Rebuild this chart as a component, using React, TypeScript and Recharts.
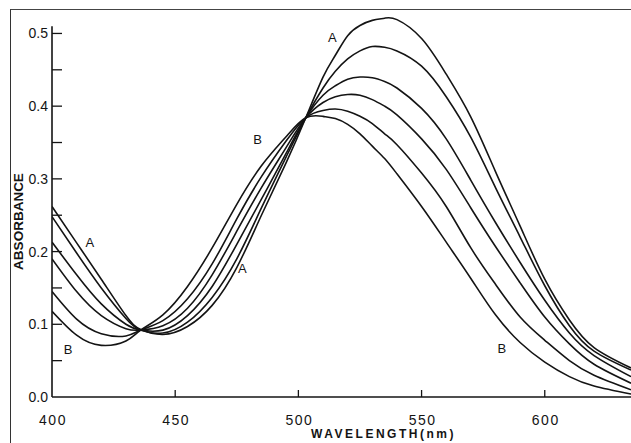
import React from 'react';
import { LineChart, Line, XAxis, YAxis, ReferenceLine, ReferenceDot } from 'recharts';

// absorbance spectra, wavelength in nm; curve A (first) to curve B (last)
const wavelengths = [400, 410, 420, 430, 436, 445, 455, 465, 475, 485, 495, 503, 510, 515, 520, 525, 530, 535, 540, 550, 560, 570, 580, 590, 600, 610, 620, 635];

const curveA = [0.262, 0.212, 0.162, 0.112, 0.093, 0.086, 0.097, 0.126, 0.178, 0.25, 0.322, 0.384, 0.44, 0.47, 0.497, 0.511, 0.518, 0.521, 0.519, 0.493, 0.444, 0.385, 0.31, 0.235, 0.162, 0.106, 0.068, 0.04];
const curve2 = [0.248, 0.198, 0.15, 0.108, 0.092, 0.088, 0.103, 0.137, 0.19, 0.26, 0.33, 0.384, 0.425, 0.448, 0.465, 0.476, 0.482, 0.481, 0.476, 0.455, 0.413, 0.357, 0.288, 0.22, 0.153, 0.098, 0.063, 0.037];
const curve3 = [0.213, 0.168, 0.128, 0.1, 0.092, 0.092, 0.112, 0.152, 0.21, 0.272, 0.335, 0.384, 0.415, 0.428, 0.437, 0.44, 0.439, 0.434, 0.425, 0.397, 0.355, 0.298, 0.24, 0.185, 0.133, 0.088, 0.057, 0.028];
const curve4 = [0.19, 0.145, 0.112, 0.094, 0.092, 0.098, 0.122, 0.168, 0.228, 0.288, 0.343, 0.384, 0.405, 0.413, 0.416, 0.415, 0.409, 0.4, 0.388, 0.355, 0.313, 0.26, 0.207, 0.157, 0.11, 0.073, 0.045, 0.019];
const curve5 = [0.145, 0.107, 0.087, 0.084, 0.092, 0.105, 0.135, 0.183, 0.245, 0.303, 0.352, 0.384, 0.394, 0.396, 0.393, 0.386, 0.376, 0.362, 0.347, 0.308, 0.262, 0.205, 0.155, 0.11, 0.078, 0.05, 0.03, 0.01];
const curveB = [0.118, 0.085, 0.071, 0.077, 0.092, 0.113, 0.152, 0.205, 0.265, 0.318, 0.358, 0.384, 0.386, 0.383, 0.375, 0.362, 0.345, 0.328, 0.307, 0.262, 0.213, 0.163, 0.113, 0.075, 0.048, 0.028, 0.015, 0.004];

const series = [curveA, curve2, curve3, curve4, curve5, curveB];

const xTicks = [400, 450, 500, 550, 600];
const yTicks = [0, 0.05, 0.1, 0.15, 0.2, 0.25, 0.3, 0.35, 0.4, 0.45, 0.5];

const annotations = [
  { w: 415.4, a: 0.212, text: 'A' },
  { w: 406.5, a: 0.065, text: 'B' },
  { w: 483.4, a: 0.354, text: 'B' },
  { w: 477.3, a: 0.177, text: 'A' },
  { w: 513.8, a: 0.495, text: 'A' },
  { w: 582.6, a: 0.067, text: 'B' }
];

const data = wavelengths.map((w, i) => {
  const row: Record<string, number> = { w };
  series.forEach((s, k) => {
    row['c' + k] = s[i];
  });
  return row;
});

const FONT = '"Liberation Sans", Arial, Helvetica, sans-serif';
const INK = '#141414';

function XTick(props: any) {
  const { x, y, payload } = props;
  return (
    <g>
      {payload.value !== 400 && (
        <line x1={x} y1={y} x2={x} y2={y - 7} stroke={INK} strokeWidth={1.3} />
      )}
      <text x={x + 1} y={y + 28} textAnchor="middle" fontSize={14} letterSpacing={1.5} fill={INK} fontFamily={FONT}>
        {payload.value}
      </text>
    </g>
  );
}

function YTick(props: any) {
  const { x, y, payload } = props;
  const v = payload.value as number;
  const major = Math.round(v * 100) % 10 === 0;
  return (
    <g>
      {v > 0 && <line x1={x} y1={y} x2={x + 10} y2={y} stroke={INK} strokeWidth={1.3} />}
      {major && (
        <text x={x - 4} y={y + 5} textAnchor="end" fontSize={14} fill={INK} fontFamily={FONT}>
          {v.toFixed(1)}
        </text>
      )}
    </g>
  );
}

export default function App() {
  return (
    <div style={{ position: 'absolute', left: 0, top: 0, width: 631, height: 443, background: '#fff' }}>
      {/* scanned figure frame */}
      <div
        style={{
          position: 'absolute',
          left: 10,
          top: 9,
          width: 640,
          height: 450,
          borderLeft: '1.5px solid #333',
          borderTop: '1.5px solid #444'
        }}
      />
      <LineChart
        width={631}
        height={443}
        data={data}
        margin={{ top: 8, right: 0, bottom: 0, left: 0 }}
        style={{ position: 'absolute', left: 0, top: 0 }}
      >
        <XAxis
          dataKey="w"
          type="number"
          domain={[400, 635]}
          allowDataOverflow
          ticks={xTicks}
          interval={0}
          height={46}
          tickSize={0}
          tickMargin={0}
          tickLine={false}
          tick={<XTick />}
          axisLine={{ stroke: INK, strokeWidth: 1.6 }}
          label={{
            content: (p: any) => {
              const vb = p.viewBox;
              const cx = vb.x + vb.width / 2 + 42;
              const cy = vb.y + 41;
              return (
                <text x={cx} y={cy} textAnchor="middle" fontSize={12} fontWeight="bold" letterSpacing={2.5} fill={INK} fontFamily={FONT}>
                  WAVELENGTH(nm)
                </text>
              );
            }
          }}
        />
        <YAxis
          type="number"
          domain={[0, 0.535]}
          allowDataOverflow
          ticks={yTicks}
          interval={0}
          width={52}
          tickSize={0}
          tickMargin={0}
          tickLine={false}
          axisLine={false}
          tick={<YTick />}
          label={{
            content: (p: any) => {
              const vb = p.viewBox;
              const cx = vb.x + 18;
              const cy = vb.y + vb.height / 2 + 19;
              return (
                <text
                  x={cx}
                  y={cy}
                  transform={`rotate(-90 ${cx} ${cy})`}
                  textAnchor="middle"
                  dominantBaseline="central"
                  fontSize={13.5}
                  fontWeight="bold"
                  fill={INK}
                  fontFamily={FONT}
                >
                  ABSORBANCE
                </text>
              );
            }
          }}
        />
        <ReferenceLine
          segment={[{ x: 400, y: 0 }, { x: 400, y: 0.51 }]}
          stroke={INK}
          strokeWidth={1.6}
          ifOverflow="visible"
        />
        {series.map((_, k) => (
          <Line
            key={k}
            dataKey={'c' + k}
            type="natural"
            stroke={INK}
            strokeWidth={1.6}
            dot={false}
            activeDot={false}
            isAnimationActive={false}
          />
        ))}
        {annotations.map((n, i) => (
          <ReferenceDot
            key={i}
            x={n.w}
            y={n.a}
            r={0}
            stroke="none"
            fill="none"
            ifOverflow="visible"
            label={{ value: n.text, position: 'center', fontSize: 13, fill: INK, fontFamily: FONT }}
          />
        ))}
      </LineChart>
    </div>
  );
}
